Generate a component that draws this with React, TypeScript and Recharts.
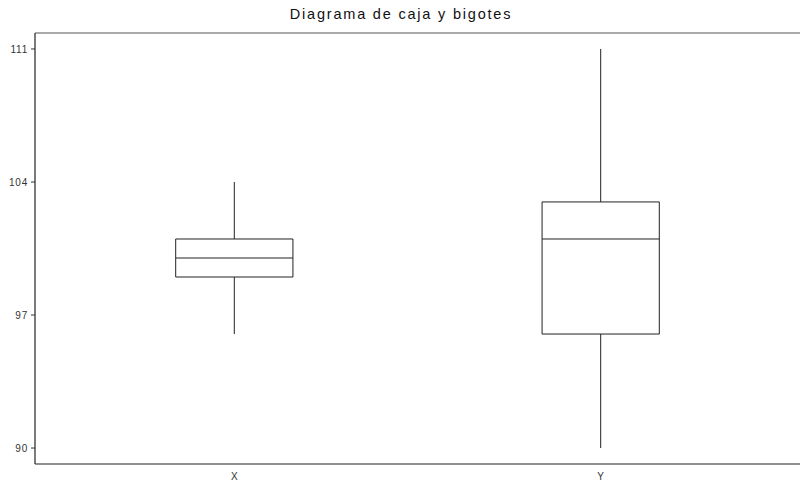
import React from 'react';
import {
  ComposedChart,
  XAxis,
  YAxis,
  Scatter,
  ReferenceArea,
  ReferenceLine,
} from 'recharts';

const categories = ['X', 'Y'];
const positions = [1, 2];
const mins = [96, 90];
const q1s = [99, 96];
const medians = [100, 101];
const q3s = [101, 102.95];
const maxs = [104, 111];
const yTicks = [90, 97, 104, 111];

const data = positions.map((p, i) => ({
  x: p,
  name: categories[i],
  min: mins[i],
  q1: q1s[i],
  median: medians[i],
  q3: q3s[i],
  max: maxs[i],
}));

const HALF_BOX = 0.16;
const STROKE = '#222';
const FONT = "'Liberation Sans', Arial, sans-serif";

export default function App() {
  return (
    <div style={{ position: 'absolute', left: 0, top: 0, width: 800, height: 485, background: '#fff' }}>
      <div
        style={{
          position: 'absolute',
          left: 0,
          top: 4,
          width: 802,
          textAlign: 'center',
          fontFamily: FONT,
          fontSize: 14.5,
          letterSpacing: 1.8,
          color: '#111',
          lineHeight: '20px',
        }}
      >
        Diagrama de caja y bigotes
      </div>
      <ComposedChart
        width={800}
        height={485}
        data={data}
        margin={{ top: 32, right: 0, bottom: 0, left: 0 }}
      >
        <XAxis
          xAxisId="top"
          orientation="top"
          type="number"
          dataKey="x"
          domain={[0.456, 2.544]}
          height={1}
          tick={false}
          tickLine={false}
          axisLine={{ stroke: '#555', strokeWidth: 1.2 }}
        />
        <XAxis
          xAxisId="bottom"
          type="number"
          dataKey="x"
          domain={[0.456, 2.544]}
          ticks={positions}
          tickFormatter={(v: number) => categories[positions.indexOf(v)] ?? ''}
          height={21}
          tickLine={false}
          tickMargin={3}
          axisLine={{ stroke: '#222', strokeWidth: 1.2 }}
          tick={{ fontFamily: FONT, fontSize: 10, fill: '#333' }}
        />
        <YAxis
          type="number"
          domain={[89.16, 111.84]}
          ticks={yTicks}
          width={35}
          tickSize={4}
          tickMargin={3}
          allowDataOverflow
          axisLine={{ stroke: '#222', strokeWidth: 1.2 }}
          tickLine={{ stroke: '#333' }}
          tick={{ fontFamily: FONT, fontSize: 10, fill: '#333', letterSpacing: 0.8 }}
        />
        <Scatter
          xAxisId="bottom"
          dataKey="median"
          isAnimationActive={false}
          shape={() => <g />}
        />
        {data.map((d) => (
          <ReferenceArea
            key={'box-' + d.name}
            xAxisId="bottom"
            x1={d.x - HALF_BOX}
            x2={d.x + HALF_BOX}
            y1={d.q1}
            y2={d.q3}
            fill="#fff"
            fillOpacity={0}
            stroke={STROKE}
            strokeWidth={1}
            strokeOpacity={1}
            ifOverflow="visible"
          />
        ))}
        {data.map((d) => (
          <ReferenceLine
            key={'med-' + d.name}
            xAxisId="bottom"
            segment={[
              { x: d.x - HALF_BOX, y: d.median },
              { x: d.x + HALF_BOX, y: d.median },
            ]}
            stroke={STROKE}
            strokeWidth={1}
            ifOverflow="visible"
          />
        ))}
        {data.map((d) => (
          <ReferenceLine
            key={'up-' + d.name}
            xAxisId="bottom"
            segment={[
              { x: d.x, y: d.q3 },
              { x: d.x, y: d.max },
            ]}
            stroke={STROKE}
            strokeWidth={1}
            ifOverflow="visible"
          />
        ))}
        {data.map((d) => (
          <ReferenceLine
            key={'lo-' + d.name}
            xAxisId="bottom"
            segment={[
              { x: d.x, y: d.q1 },
              { x: d.x, y: d.min },
            ]}
            stroke={STROKE}
            strokeWidth={1}
            ifOverflow="visible"
          />
        ))}
      </ComposedChart>
    </div>
  );
}
